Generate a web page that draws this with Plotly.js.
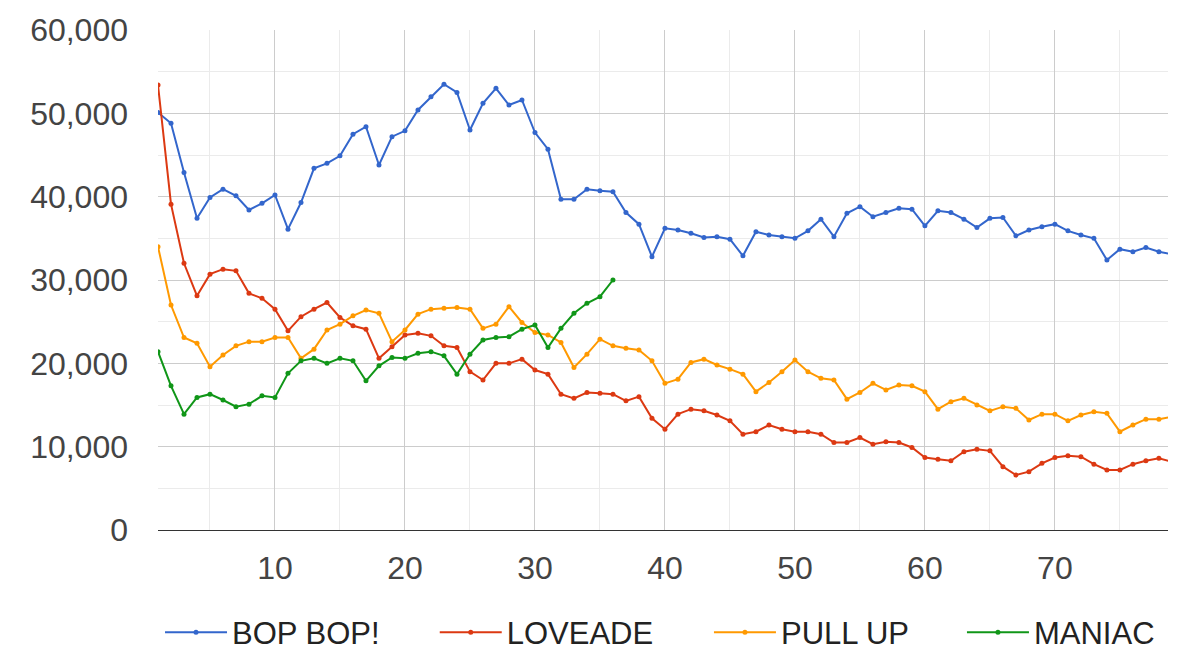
<!DOCTYPE html>
<html>
<head>
<meta charset="utf-8">
<script src="https://cdn.plot.ly/plotly-3.0.1.min.js"></script>
<style>
  html, body { margin: 0; padding: 0; background: #fff; }
  #chart { width: 1179px; height: 664px; }
</style>
</head>
<body>
<div id="chart"></div>
<script>
const seriesNames = ["BOP BOP!", "LOVEADE", "PULL UP", "MANIAC"];
const seriesColors = ["#3366cc", "#dc3912", "#ff9900", "#109618"];

const bopBop = [50100, 48800, 42900, 37400, 39900, 40900, 40100, 38400, 39200, 40200,
  36100, 39300, 43400, 44000, 44900, 47500, 48400, 43800, 47200, 47900,
  50400, 52000, 53500, 52500, 48000, 51200, 53000, 51000, 51600, 47700,
  45700, 39700, 39700, 40900, 40700, 40600, 38100, 36700, 32800, 36200,
  36000, 35600, 35100, 35200, 34900, 32900, 35800, 35400, 35200, 35000,
  35900, 37300, 35200, 38000, 38800, 37600, 38100, 38600, 38500, 36500,
  38300, 38100, 37300, 36300, 37400, 37500, 35300, 36000, 36400, 36700,
  35900, 35400, 35000, 32400, 33700, 33400, 33900, 33400, 33100];

const loveade = [53400, 39100, 32000, 28100, 30700, 31300, 31100, 28400, 27800, 26500,
  23900, 25600, 26500, 27300, 25500, 24500, 24100, 20600, 22000, 23400,
  23600, 23300, 22100, 21900, 19000, 18000, 20000, 20000, 20500, 19200,
  18700, 16300, 15800, 16500, 16400, 16300, 15500, 16000, 13400, 12100,
  13900, 14500, 14300, 13800, 13100, 11500, 11800, 12600, 12100, 11800,
  11800, 11500, 10500, 10500, 11100, 10300, 10600, 10500, 9900, 8700,
  8500, 8300, 9400, 9700, 9500, 7600, 6600, 7000, 8000, 8700,
  8900, 8800, 7900, 7200, 7200, 7900, 8300, 8600, 8200];

const pullUp = [34000, 27000, 23100, 22400, 19600, 21000, 22100, 22600, 22600, 23100,
  23100, 20600, 21700, 24000, 24700, 25700, 26400, 26000, 22600, 24000,
  25900, 26500, 26600, 26700, 26500, 24200, 24700, 26800, 24900, 23700,
  23400, 22500, 19500, 21100, 22900, 22100, 21800, 21600, 20300, 17600,
  18100, 20100, 20500, 19800, 19300, 18700, 16600, 17700, 19000, 20400,
  19000, 18200, 18000, 15700, 16500, 17600, 16800, 17400, 17300, 16600,
  14500, 15400, 15800, 15000, 14300, 14800, 14600, 13200, 13900, 13900,
  13100, 13800, 14200, 14000, 11800, 12600, 13300, 13300, 13600];

const maniac = [21400, 17300, 13900, 15900, 16300, 15600, 14800, 15100, 16100, 15900,
  18800, 20300, 20600, 20000, 20600, 20300, 17900, 19700, 20700, 20600,
  21200, 21400, 20900, 18700, 21100, 22800, 23100, 23200, 24100, 24600,
  21900, 24200, 26000, 27200, 28000, 30000];

const xTickValues = [10, 20, 30, 40, 50, 60, 70];
const yTickValues = [0, 10000, 20000, 30000, 40000, 50000, 60000];

const allSeries = [bopBop, loveade, pullUp, maniac];
const FONT = '"Liberation Sans", Arial, sans-serif';

// each series gets its own legend box so the entries can be spaced like the original
const legendIds = ['legend', 'legend2', 'legend3', 'legend4'];
const legendX = [0.002, 0.274, 0.5455, 0.796];

const traces = allSeries.map((vals, k) => ({
  type: 'scatter',
  mode: 'lines+markers',
  name: seriesNames[k],
  legend: legendIds[k],
  x: vals.map((v, i) => i + 1),
  y: vals,
  line: { color: seriesColors[k], width: 2 },
  marker: { color: seriesColors[k], size: 5 },
  hoverinfo: 'x+y+name'
}));

const layout = {
  width: 1179,
  height: 664,
  margin: { l: 158, r: 11, t: 30, b: 134, pad: 0, autoexpand: false },
  paper_bgcolor: '#ffffff',
  plot_bgcolor: '#ffffff',
  font: { family: FONT, size: 31, color: '#444444' },
  showlegend: true,
  xaxis: {
    range: [1, 78.7],
    automargin: false,
    tickmode: 'array',
    tickvals: xTickValues,
    ticktext: xTickValues.map(String),
    showgrid: true,
    gridcolor: '#cccccc',
    gridwidth: 1,
    minor: { dtick: 5, tick0: 0, showgrid: true, gridcolor: '#ebebeb', gridwidth: 1 },
    zeroline: false,
    showline: false,
    ticks: '',
    ticklabelstandoff: 16,
    tickfont: { family: FONT, size: 32, color: '#444444' }
  },
  yaxis: {
    range: [0, 60000],
    automargin: false,
    tickmode: 'array',
    tickvals: yTickValues,
    ticktext: yTickValues.map(v => v.toLocaleString('en-US')),
    showgrid: true,
    gridcolor: '#cccccc',
    gridwidth: 1,
    minor: { dtick: 5000, tick0: 0, showgrid: true, gridcolor: '#ebebeb', gridwidth: 1 },
    zeroline: true,
    zerolinecolor: '#333333',
    zerolinewidth: 1,
    showline: false,
    ticks: '',
    ticklabelstandoff: 29,
    tickfont: { family: FONT, size: 32, color: '#444444' }
  }
};

legendIds.forEach((id, k) => {
  layout[id] = {
    orientation: 'h',
    x: legendX[k], xanchor: 'left',
    y: -0.205, yanchor: 'middle',
    font: { family: FONT, size: 31, color: '#222222' },
    itemwidth: 62,
    bgcolor: 'rgba(0,0,0,0)'
  };
});

Plotly.newPlot('chart', traces, layout, { displayModeBar: false, staticPlot: true });
</script>
</body>
</html>
